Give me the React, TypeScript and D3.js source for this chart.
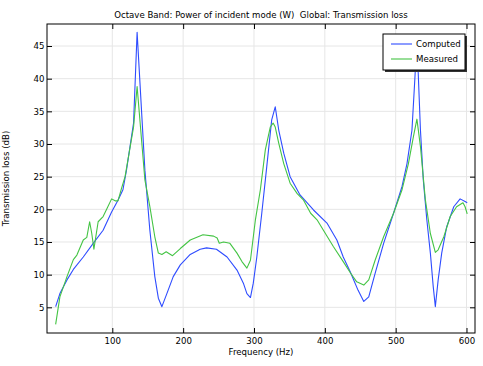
import { useEffect, useRef } from "react";
import * as d3 from "d3";

const computedFreq = [20,26,36,45,59,73,87,99,108,115,120,130,135,146,153,160,165,170,177,186,196,210,224,233,247,262,276,285,290,295,299,304,311,318,325,330,335,342,351,365,384,403,417,426,436,447,455,462,471,483,497,509,516,523,527,530,535,539,544,549,553,556,560,565,572,582,591,598,601];
const computedLoss = [5.1,7.1,9.2,10.8,12.7,14.8,16.8,19.6,21.4,23,26,33.2,47.1,26,16.8,9.7,6.4,5.1,7.1,9.7,11.5,13.1,13.9,14.1,13.9,12.7,10.7,8.7,7.1,6.5,8.7,12.7,19.4,26.5,33.7,35.7,32.1,28.6,25,22.2,19.9,17.9,15.3,12.7,10.4,7.6,5.9,6.6,10.2,14.8,19.4,23.5,27,32.1,39.8,46,32.1,24.5,18.4,13.3,8.2,5.1,9.2,13.3,17.3,20.4,21.6,21.2,21];

const measuredFreq = [20,26,36,45,50,59,64,68,71,74,80,87,92,99,104,108,113,118,130,135,146,153,160,165,170,176,185,196,210,228,243,248,251,257,266,276,283,290,295,302,309,316,323,327,330,335,342,351,361,370,380,389,398,412,426,436,445,455,462,471,483,497,509,518,525,530,535,542,549,556,560,568,577,586,595,598,601];
const measuredLoss = [2.4,6.6,9.7,12.3,13,15.3,15.7,18.1,16.3,13.9,18.1,18.9,20,21.6,21.3,21.3,23.2,25,32.6,38.8,24.5,20.4,15.8,13.3,13.1,13.5,12.9,14,15.3,16.1,15.9,15.6,14.8,15,14.8,13.3,12,11,12.2,18.4,23,29.1,32.6,33.2,32.6,30.1,27,24,22.4,21.4,19.4,18.4,16.8,14.3,12,10.3,8.9,8.4,9.2,12.2,15.8,19.4,23,27,31.1,33.8,29.6,21.4,16.3,13.4,13.8,15.8,18.9,20.4,21,20.4,19.3];

const xTicks = [100, 200, 300, 400, 500, 600];
const yTicks = [5, 10, 15, 20, 25, 30, 35, 40, 45];
const seriesNames = ["Computed", "Measured"];
const seriesColors = ["#2e4cff", "#44c444"];

export default function App() {
  const svgRef = useRef<SVGSVGElement>(null);

  useEffect(() => {
    const W = 483, H = 366;
    const m = { top: 24, right: 8, bottom: 33, left: 47 };
    const innerW = W - m.left - m.right;
    const innerH = H - m.top - m.bottom;

    const svg = d3.select(svgRef.current);
    svg.selectAll("*").remove();
    const font = "DejaVu Sans, sans-serif";
    const fs = 8.6;

    const x = d3.scaleLinear().domain([7.8, 612]).range([0, innerW]);
    const y = d3.scaleLinear().domain([1.07, 48.37]).range([innerH, 0]);

    const g = svg.append("g").attr("transform", `translate(${m.left},${m.top})`);

    // grid
    g.append("g")
      .selectAll("line")
      .data(xTicks)
      .join("line")
      .attr("x1", (d) => x(d)).attr("x2", (d) => x(d))
      .attr("y1", 0).attr("y2", innerH)
      .attr("stroke", "#e6e6e6");
    g.append("g")
      .selectAll("line")
      .data(yTicks)
      .join("line")
      .attr("x1", 0).attr("x2", innerW)
      .attr("y1", (d) => y(d)).attr("y2", (d) => y(d))
      .attr("stroke", "#e6e6e6");

    // lines
    const line = d3.line<[number, number]>().x((d) => x(d[0])).y((d) => y(d[1]));
    const series: [number, number][][] = [
      computedFreq.map((f, i) => [f, computedLoss[i]]),
      measuredFreq.map((f, i) => [f, measuredLoss[i]]),
    ];
    const clip = svg.append("clipPath").attr("id", "plotclip");
    clip.append("rect").attr("width", innerW).attr("height", innerH);
    series.forEach((s, i) => {
      g.append("path")
        .datum(s)
        .attr("d", line)
        .attr("fill", "none")
        .attr("stroke", seriesColors[i])
        .attr("stroke-width", 1.1)
        .attr("stroke-linejoin", "round")
        .attr("clip-path", "url(#plotclip)");
    });

    // axes with inner ticks
    const tickLen = 5;
    const axB = g.append("g").attr("transform", `translate(0,${innerH})`)
      .call(d3.axisBottom(x).tickValues(xTicks).tickSizeInner(-tickLen).tickSizeOuter(0).tickPadding(5));
    const axT = g.append("g")
      .call(d3.axisTop(x).tickValues(xTicks).tickSizeInner(-tickLen).tickSizeOuter(0).tickFormat(() => ""));
    const axL = g.append("g")
      .call(d3.axisLeft(y).tickValues(yTicks).tickSizeInner(-tickLen).tickSizeOuter(0).tickPadding(2.5));
    const axR = g.append("g").attr("transform", `translate(${innerW},0)`)
      .call(d3.axisRight(y).tickValues(yTicks).tickSizeInner(-tickLen).tickSizeOuter(0).tickFormat(() => ""));
    [axB, axT, axL, axR].forEach((a) => {
      a.select(".domain").remove();
      a.selectAll("text").attr("font-family", font).attr("font-size", fs).attr("fill", "#000");
      a.selectAll("line").attr("stroke", "#000");
    });

    g.append("rect")
      .attr("width", innerW).attr("height", innerH)
      .attr("fill", "none").attr("stroke", "#000").attr("stroke-width", 1);

    // title & labels
    svg.append("text")
      .attr("x", m.left + innerW / 2).attr("y", 18)
      .attr("text-anchor", "middle")
      .attr("font-family", font).attr("font-size", fs)
      .attr("xml:space", "preserve")
      .style("white-space", "pre")
      .text("Octave Band: Power of incident mode (W)  Global: Transmission loss");
    svg.append("text")
      .attr("x", m.left + innerW / 2).attr("y", 355)
      .attr("text-anchor", "middle")
      .attr("font-family", font).attr("font-size", fs)
      .text("Frequency (Hz)");
    svg.append("text")
      .attr("transform", `translate(9,${m.top + innerH / 2}) rotate(-90)`)
      .attr("text-anchor", "middle")
      .attr("font-family", font).attr("font-size", fs)
      .text("Transmission loss (dB)");

    // legend
    const lg = svg.append("g").attr("transform", "translate(383,34)");
    lg.append("rect").attr("x", 2).attr("y", 2).attr("width", 82).attr("height", 36).attr("fill", "#333");
    lg.append("rect").attr("width", 82).attr("height", 36).attr("fill", "#fff").attr("stroke", "#000");
    seriesNames.forEach((name, i) => {
      const yy = 10 + i * 15;
      lg.append("line").attr("x1", 8).attr("x2", 29).attr("y1", yy).attr("y2", yy)
        .attr("stroke", seriesColors[i]).attr("stroke-width", 1.1);
      lg.append("text").attr("x", 33).attr("y", yy + 3)
        .attr("font-family", font).attr("font-size", fs).text(name);
    });
  }, []);

  return (
    <svg
      ref={svgRef}
      width={483}
      height={366}
      style={{ position: "absolute", left: 0, top: 0, background: "#fff" }}
    />
  );
}
